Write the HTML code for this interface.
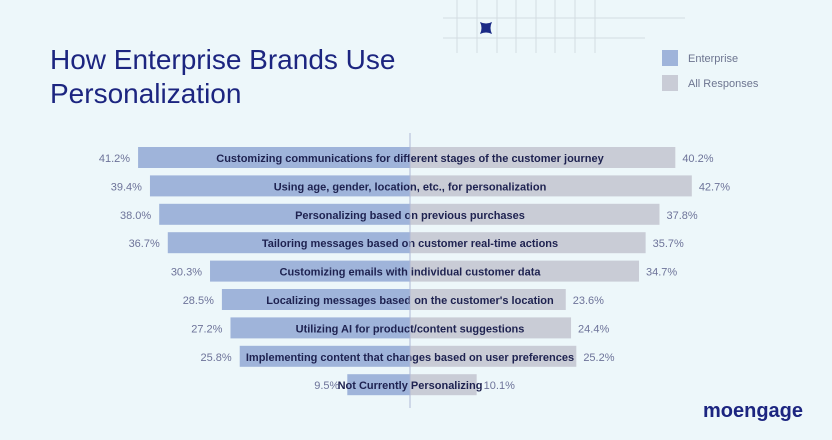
<!DOCTYPE html>
<html><head><meta charset="utf-8"><style>
body{margin:0;width:832px;height:435px;overflow:hidden;background:#edf7fa;font-family:"Liberation Sans",sans-serif}
</style></head><body>
<svg width="832" height="435" id="svg" xmlns="http://www.w3.org/2000/svg">
<rect width="832" height="435" fill="#edf7fa"/>
<g stroke="#d3dce2" stroke-width="1">
<line x1="457" y1="0" x2="457" y2="53"/><line x1="477" y1="0" x2="477" y2="53"/><line x1="497" y1="0" x2="497" y2="53"/><line x1="516" y1="0" x2="516" y2="53"/><line x1="536" y1="0" x2="536" y2="53"/><line x1="555" y1="0" x2="555" y2="53"/><line x1="575" y1="0" x2="575" y2="53"/><line x1="595" y1="0" x2="595" y2="53"/>
<line x1="443" y1="18" x2="685" y2="18"/><line x1="443" y1="38" x2="645" y2="38"/>
</g>
<path d="M480,22 Q486,25 492,22 Q489,28 492,34 Q486,31 480,34 Q483,28 480,22Z" fill="#1a2a86"/>
<text x="50" y="69" font-size="28" fill="#1c2580">How Enterprise Brands Use</text>
<text x="50" y="103" font-size="28" fill="#1c2580">Personalization</text>
<rect x="662" y="50" width="16" height="16" fill="#9fb4da"/>
<text x="688" y="62" font-size="11" fill="#6d7590">Enterprise</text>
<rect x="662" y="75" width="16" height="16" fill="#c9ccd6"/>
<text x="688" y="87" font-size="11" fill="#6d7590">All Responses</text>
<g id="bars"></g>
<line x1="410" y1="133" x2="410" y2="408" stroke="#aeb8d6" stroke-width="1"/>
<text x="703" y="417" font-size="20" font-weight="bold" fill="#1c2580">moengage</text>
</svg>
<script>
const categories=["Customizing communications for different stages of the customer journey","Using age, gender, location, etc., for personalization","Personalizing based on previous purchases","Tailoring messages based on customer real-time actions","Customizing emails with individual customer data","Localizing messages based on the customer's location","Utilizing AI for product/content suggestions","Implementing content that changes based on user preferences","Not Currently Personalizing"];
const enterprise=[41.2,39.4,38.0,36.7,30.3,28.5,27.2,25.8,9.5];
const allResponses=[40.2,42.7,37.8,35.7,34.7,23.6,24.4,25.2,10.1];
const cx=410,scale=6.6,y0=147,step=28.4,bh=21;
const sx=v=>v*scale;
const g=document.getElementById('bars');
const NS="http://www.w3.org/2000/svg";
function mk(t,a){const e=document.createElementNS(NS,t);for(const k in a)e.setAttribute(k,a[k]);return e;}
categories.forEach((c,i)=>{
 const y=y0+i*step;
 const l=mk('rect',{x:cx-sx(enterprise[i]),y:y,width:sx(enterprise[i]),height:bh,fill:'#9fb4da'});
 
 
 g.appendChild(l);
 const r=mk('rect',{x:cx,y:y,width:sx(allResponses[i]),height:bh,fill:'#c9ccd6'});
 
 
 g.appendChild(r);
 const t=mk('text',{x:cx,y:y+15,'text-anchor':'middle','font-size':'11','font-weight':'bold',fill:'#1e2250'});
 t.textContent=c;
 
 
 g.appendChild(t);
 const lv=mk('text',{x:cx-sx(enterprise[i])-8,y:y+15,'text-anchor':'end','font-size':'11',fill:'#6d7399'});
 lv.textContent=enterprise[i].toFixed(1)+'%';
 
 
 g.appendChild(lv);
 const rv=mk('text',{x:cx+sx(allResponses[i])+7,y:y+15,'font-size':'11',fill:'#6d7399'});
 rv.textContent=allResponses[i].toFixed(1)+'%';
 
 
 g.appendChild(rv);
});
</script>
</body></html>
